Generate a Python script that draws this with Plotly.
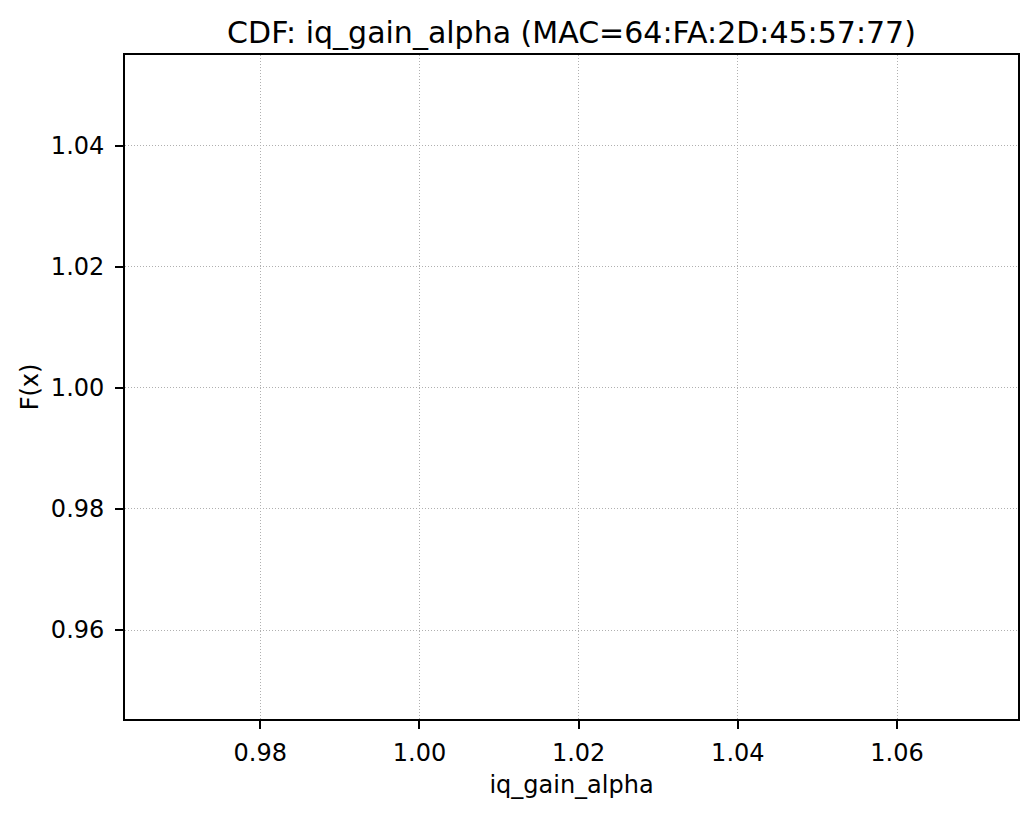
import plotly.graph_objects as go

# CDF data: a single sample, so the step line collapses to one point
x_vals = [1.0]
cdf_vals = [1.0]

mac = "64:FA:2D:45:57:77"
feature = "iq_gain_alpha"

# the page body adds ~8px, the margins below take that off
off = 8

fig = go.Figure()
fig.add_trace(go.Scatter(
    x=x_vals,
    y=cdf_vals,
    mode="lines",
    line=dict(color="#1f77b4", width=2, shape="hv"),
    showlegend=False,
))

axis_style = dict(
    showline=True,
    linecolor="black",
    linewidth=1.8,
    mirror=True,
    ticks="outside",
    ticklen=8,
    tickwidth=1.8,
    tickcolor="black",
    showgrid=True,
    gridcolor="#b0b0b0",
    griddash="1px,2px",
    gridwidth=1,
    zeroline=False,
    tickformat=".2f",
    tickfont=dict(size=24, color="black"),
    title_font=dict(size=24, color="black"),
)

fig.update_layout(
    width=1035,
    height=815,
    paper_bgcolor="white",
    plot_bgcolor="white",
    font=dict(family="DejaVu Sans", color="black"),
    margin=dict(l=125 - off, r=1035 + off - 1018, t=55 - off, b=815 + off - 719),
    title=dict(
        text=f"CDF: {feature} (MAC={mac})",
        x=(125 + 1018) / 2 / 1035 - off / 1035,
        xanchor="center",
        y=1 - (32 - off) / 815,
        yanchor="middle",
        font=dict(size=30, color="black"),
    ),
    xaxis=dict(axis_style, range=[0.963, 1.0752], dtick=0.02, tick0=0.98,
               ticklabelstandoff=3,
               title=dict(text=feature, standoff=10)),
    yaxis=dict(axis_style, range=[0.9453, 1.055], dtick=0.02, tick0=0.96,
               ticklabelstandoff=6,
               title=dict(text="F(x)", standoff=5)),
)

fig.write_html("out.html")
